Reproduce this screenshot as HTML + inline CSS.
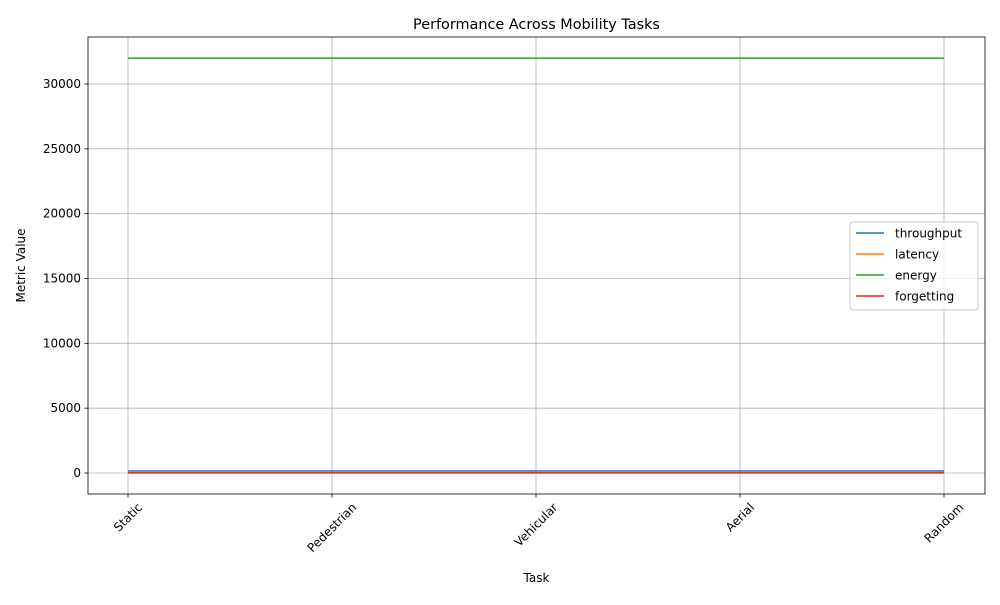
<!DOCTYPE html>
<html><head><meta charset="utf-8"><style>
body{margin:0;background:#fff;font-family:"Liberation Sans","DejaVu Sans",sans-serif;}
svg text{font-family:"DejaVu Sans","Liberation Sans",sans-serif;}
</style></head><body>
<svg id="chart" width="1000" height="600" xmlns="http://www.w3.org/2000/svg"></svg>
<script>
const categories = ["Static","Pedestrian","Vehicular","Aerial","Random"];
const throughput = [150,150,150,150,150];
const latency = [20,20,20,20,20];
const energy = [32000,32000,32000,32000,32000];
const forgetting = [5,5,5,5,5];
const yTicks = [0,5000,10000,15000,20000,25000,30000];
const seriesNames = ["throughput","latency","energy","forgetting"];
const colors = ["#1f77b4","#ff7f0e","#2ca02c","#d62728"];
const seriesData = [throughput,latency,energy,forgetting];

const NS="http://www.w3.org/2000/svg";
const svg=document.getElementById('chart');
const L=88,R=985,T=37,B=494;
function xs(i){return 128+i*(944-128)/(categories.length-1);}
function ys(v){return 473-v*(473-84)/30000;}
function mk(tag,attrs,parent){const e=document.createElementNS(NS,tag);for(const k in attrs)e.setAttribute(k,attrs[k]);(parent||svg).appendChild(e);return e;}

const grid=mk('g',{});


yTicks.forEach(v=>{
  const l=mk('line',{x1:L,x2:R,y1:ys(v),y2:ys(v),stroke:'#b0b0b0','stroke-width':0.8},grid);
  
  
  mk('line',{x1:L-3.5,x2:L,y1:ys(v),y2:ys(v),stroke:'#000','stroke-width':0.8});
  const t=mk('text',{x:L-7,y:ys(v)+4,'text-anchor':'end','font-size':12});
  t.textContent=v;
  
  
});
categories.forEach((c,i)=>{
  const x=xs(i);
  const l=mk('line',{x1:x,x2:x,y1:T,y2:B,stroke:'#b0b0b0','stroke-width':0.8},grid);
  
  
  mk('line',{x1:x,x2:x,y1:B,y2:B+3.5,stroke:'#000','stroke-width':0.8});
  const t=mk('text',{x:0,y:0,'text-anchor':'middle','font-size':12});
  t.textContent=c;
  
  
  const w=t.getComputedTextLength();
  const h=(w+12)*0.7071;
  const cy=B+7+h/2;
  t.setAttribute('transform',`translate(${x} ${cy}) rotate(-45) translate(0 4)`);
});
seriesData.forEach((d,s)=>{
  const p=mk('polyline',{points:d.map((v,i)=>xs(i)+','+ys(v)).join(' '),fill:'none',stroke:colors[s],'stroke-width':1.5});
  
  
});
const frame=mk('rect',{x:L,y:T,width:R-L,height:B-T,fill:'none',stroke:'#000','stroke-width':0.8});


const title=mk('text',{x:(L+R)/2,y:29,'text-anchor':'middle','font-size':14.4});
title.textContent='Performance Across Mobility Tasks';


const xt=mk('text',{x:(L+R)/2,y:582,'text-anchor':'middle','font-size':12});
xt.textContent='Task';


const yt=mk('text',{x:25,y:(T+B)/2,'text-anchor':'middle','font-size':12,transform:`rotate(-90 25 ${(T+B)/2})`});
yt.textContent='Metric Value';


const lg=mk('g',{});


mk('rect',{x:850,y:222,width:128,height:88,rx:3,fill:'#fff','fill-opacity':0.8,stroke:'#ccc'},lg);
seriesNames.forEach((n,i)=>{
  const y=233+i*21;
  mk('line',{x1:856,x2:884,y1:y,y2:y,stroke:colors[i],'stroke-width':1.5},lg);
  const t=mk('text',{x:895,y:y+4.5,'font-size':12},lg);
  t.textContent=n;
  
  
});
</script>
</body></html>
